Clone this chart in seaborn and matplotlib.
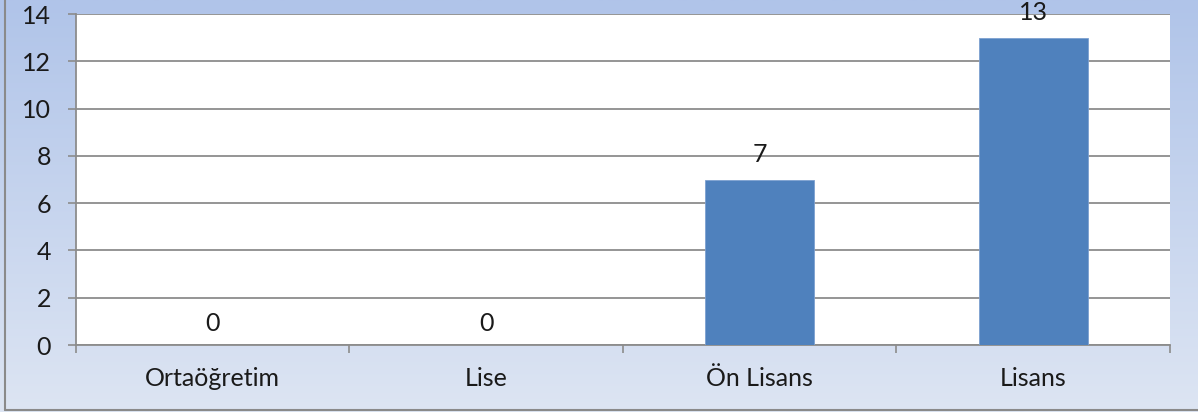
import numpy as np
import pandas as pd
import matplotlib
matplotlib.use("Agg")
import matplotlib.pyplot as plt
import seaborn as sns
from matplotlib.ticker import FixedLocator

categories = ["Ortaöğretim", "Lise", "Ön Lisans", "Lisans"]
values = [0, 0, 7, 13]
yticks = [0, 2, 4, 6, 8, 10, 12, 14]

sns.set_theme(style="white")
plt.rcParams["font.family"] = ["Lato", "DejaVu Sans"]

FS = 18

fig = plt.figure(figsize=(11.98, 4.12), dpi=100)

# gradient background
bg = fig.add_axes([0, 0, 1, 1], zorder=-10)
top = np.array([176, 196, 233]) / 255
bot = np.array([221, 229, 243]) / 255
t = np.linspace(0, 1, 256)[:, None]
grad = (top[None, :] * (1 - t) + bot[None, :] * t)[:, None, :]
bg.imshow(grad, aspect="auto", extent=[0, 1, 0, 1], origin="upper")
bg.plot([0.0045, 0.0045], [0.005, 1.0], color="#8a8a8a", lw=1.5)
bg.plot([0.0045, 1.0], [0.005, 0.005], color="#8a8a8a", lw=1.5)
bg.set_xlim(0, 1)
bg.set_ylim(0, 1)
bg.axis("off")

ax = fig.add_axes([0.0634, 0.1626, 0.9132, 0.8034])
ax.set_facecolor("white")
df = pd.DataFrame({"cat": categories, "val": values})
sns.barplot(data=df, x="cat", y="val", color="#4F81BD", width=0.4,
            edgecolor="#7DA0D0", linewidth=0.6, saturation=1, ax=ax, zorder=3)

ax.set_ylim(0, 14)
ax.set_xlim(-0.5, 3.5)
ax.set_yticks(yticks)
ax.set_yticklabels([str(v) for v in yticks])
ax.yaxis.grid(True, color="#8c8c8c", lw=1.3, zorder=0)
ax.set_axisbelow(True)

ax.xaxis.set_major_locator(FixedLocator([-0.5, 0.5, 1.5, 2.5, 3.5]))
ax.xaxis.set_minor_locator(FixedLocator([0, 1, 2, 3]))
ax.set_xticklabels([], minor=False)
ax.set_xticklabels(categories, minor=True)
ax.tick_params(axis="x", which="major", direction="out", length=6, width=1.2,
               color="#8c8c8c", bottom=True)
ax.tick_params(axis="x", which="minor", length=0, pad=16, labelsize=FS,
               labelcolor="#1a1a1a")
ax.tick_params(axis="y", direction="out", length=6, width=1.2, color="#8c8c8c",
               left=True, pad=12, labelsize=FS, labelcolor="#1a1a1a")

ax.set_xlabel("")
ax.set_ylabel("")
for side in ["top", "right"]:
    ax.spines[side].set_visible(False)
for side in ["left", "bottom"]:
    ax.spines[side].set_color("#8c8c8c")
    ax.spines[side].set_linewidth(1.3)

for p, v in zip(ax.patches, values):
    pad = 7.5 if v == 0 else 9.5
    ax.annotate(str(v), (p.get_x() + p.get_width() / 2, p.get_height()),
                xytext=(0, pad), textcoords="offset points",
                ha="center", va="bottom", fontsize=FS, color="#1a1a1a",
                annotation_clip=False)

fig.savefig("out.png", dpi=100)
